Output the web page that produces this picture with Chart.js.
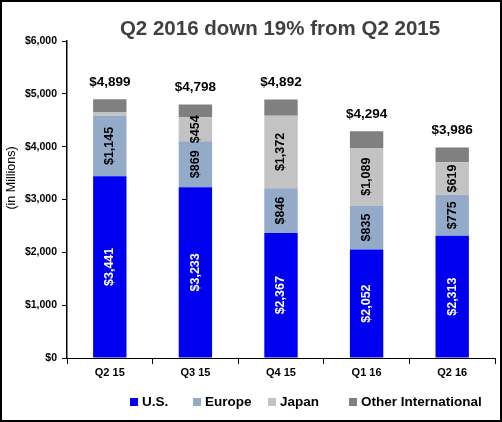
<!DOCTYPE html>
<html>
<head>
<meta charset="utf-8">
<script src="https://cdn.jsdelivr.net/npm/chart.js@4"></script>
<style>
html,body{margin:0;padding:0;background:#fff;}
#wrap{position:relative;width:502px;height:422px;}
canvas{display:block;}
</style>
</head>
<body>
<div id="wrap"><canvas id="c" width="502" height="422"></canvas></div>
<script>
const categories = ['Q2 15', 'Q3 15', 'Q4 15', 'Q1 16', 'Q2 16'];
const usValues = [3441, 3233, 2367, 2052, 2313];
const europeValues = [1145, 869, 846, 835, 775];
const japanValues = [70, 454, 1372, 1089, 619];
const otherValues = [243, 242, 307, 318, 279];
const totalLabels = [4899, 4798, 4892, 4294, 3986];
const yTickValues = [0, 1000, 2000, 3000, 4000, 5000, 6000];
const seriesNames = ['U.S.', 'Europe', 'Japan', 'Other International'];
const titleText = 'Q2 2016 down 19% from Q2 2015';
const yAxisTitle = '(in Millions)';

const colors = ['#0000f0', '#93abc9', '#c3c3c3', '#808080'];
const labelColors = ['#ffffff', '#000000', '#000000', null];
const FONT = '"Liberation Sans", Arial, sans-serif';

function fmt(v) { return '$' + v.toLocaleString('en-US'); }

const decor = {
  id: 'decor',
  afterDatasetsDraw(chart) {
    const ctx = chart.ctx;
    // segment labels
    chart.data.datasets.forEach((ds, di) => {
      if (!labelColors[di]) return;
      const meta = chart.getDatasetMeta(di);
      meta.data.forEach((el, i) => {
        const v = ds.data[i];
        const h = Math.abs(el.base - el.y);
        if (h < 20) return;
        ctx.save();
        ctx.translate(el.x, (el.y + el.base) / 2);
        ctx.rotate(-Math.PI / 2);
        ctx.fillStyle = labelColors[di];
        ctx.font = 'bold 12.5px ' + FONT;
        ctx.textAlign = 'center';
        ctx.textBaseline = 'middle';
        ctx.fillText(fmt(v), 0, 0);
        ctx.restore();
      });
    });
    // totals
    const topMeta = chart.getDatasetMeta(chart.data.datasets.length - 1);
    topMeta.data.forEach((el, i) => {
      ctx.save();
      ctx.fillStyle = '#000';
      ctx.font = 'bold 13.5px ' + FONT;
      ctx.textAlign = 'center';
      ctx.textBaseline = 'middle';
      ctx.fillText(fmt(totalLabels[i]), el.x, el.y - 17);
      ctx.restore();
    });
  },
  afterDraw(chart) {
    const ctx = chart.ctx;
    const area = chart.chartArea;
    ctx.save();
    // title
    ctx.fillStyle = '#404040';
    ctx.font = 'bold 20.5px ' + FONT;
    ctx.textAlign = 'center';
    ctx.textBaseline = 'middle';
    ctx.fillText(titleText, (area.left + area.right) / 2 - 1, 29);
    // y axis title
    ctx.save();
    ctx.translate(12, 178);
    ctx.rotate(-Math.PI / 2);
    ctx.fillStyle = '#000';
    ctx.font = '12.5px ' + FONT;
    ctx.fillText(yAxisTitle, 0, 0);
    ctx.restore();
    // legend
    const xs = [130, 193, 268, 349];
    ctx.font = 'bold 13.5px ' + FONT;
    ctx.textAlign = 'left';
    seriesNames.forEach((n, i) => {
      ctx.fillStyle = colors[i];
      ctx.fillRect(xs[i], 398, 8, 8);
      ctx.fillStyle = '#000';
      ctx.fillText(n, xs[i] + 12, 402.5);
    });
    // frame
    ctx.strokeStyle = '#000';
    ctx.lineWidth = 2;
    ctx.strokeRect(1, 1, chart.width - 2, chart.height - 2);
    ctx.restore();
  }
};

new Chart(document.getElementById('c'), {
  type: 'bar',
  data: {
    labels: categories,
    datasets: [usValues, europeValues, japanValues, otherValues].map((d, i) => ({
      label: seriesNames[i],
      data: d,
      backgroundColor: colors[i],
      borderWidth: 0,
      categoryPercentage: 1,
      barPercentage: 0.39
    }))
  },
  options: {
    responsive: false,
    animation: false,
    devicePixelRatio: 1,
    layout: { padding: { left: 0, right: 7, top: 41, bottom: 34 } },
    plugins: { legend: { display: false }, title: { display: false }, tooltip: { enabled: false } },
    scales: {
      x: {
        stacked: true,
        afterFit(s) { s.height = 30; },
        grid: { offset: true, drawOnChartArea: false, tickLength: 6, color: '#000', lineWidth: 1 },
        border: { color: '#000', width: 1 },
        ticks: { color: '#000', font: { family: FONT, size: 11, weight: 'bold' }, padding: 2 }
      },
      y: {
        stacked: true,
        min: 0,
        max: 6000,
        afterFit(s) { s.width = 67; },
        afterBuildTicks(s) { s.ticks = yTickValues.map(v => ({ value: v })); },
        grid: { drawOnChartArea: false, tickLength: 5, color: '#000', lineWidth: 1 },
        border: { color: '#000', width: 1.5 },
        ticks: {
          color: '#000',
          font: { family: FONT, size: 10.5, weight: 'bold' },
          padding: 5,
          callback: v => fmt(v)
        }
      }
    }
  },
  plugins: [decor]
});
</script>
</body>
</html>
